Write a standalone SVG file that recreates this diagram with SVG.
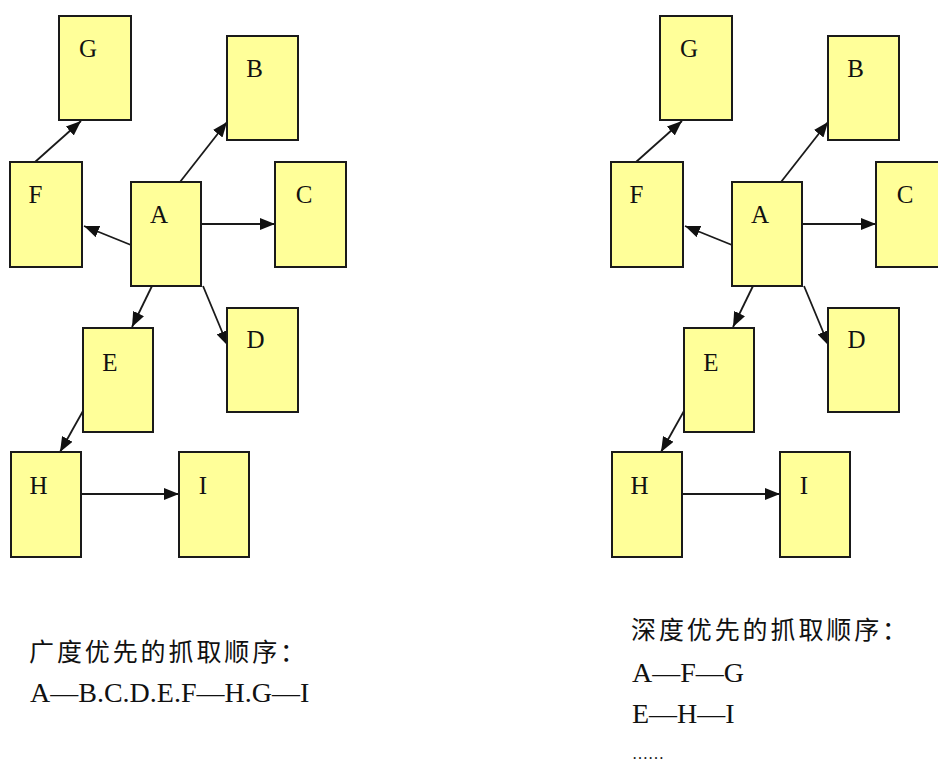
<svg xmlns="http://www.w3.org/2000/svg" width="938" height="765" viewBox="0 0 938 765">
  <style>
    .box { fill: #ffff99; stroke: #1a1a1a; stroke-width: 2; }
    .lbl { font-family: "Liberation Serif", serif; font-size: 25px; fill: #111; text-anchor: middle; }
    .edge { stroke: #1a1a1a; stroke-width: 1.8; fill: none; marker-end: url(#arrow); }
    .cap { font-family: "Noto Sans CJK SC", sans-serif; font-size: 25px; letter-spacing: 2.9px; fill: #111; }
    .seq { font-family: "Liberation Serif", serif; font-size: 28px; fill: #111; }
  </style>
  <defs>
    <marker id="arrow" markerUnits="userSpaceOnUse" markerWidth="15" markerHeight="12" refX="15" refY="6" orient="auto">
      <path d="M0,0 L15,6 L0,12 z" fill="#111"/>
    </marker>
  </defs>
  <rect width="938" height="765" fill="#ffffff"/>

  <!-- Left diagram: breadth-first -->
  <g id="left">
    <g id="connectors-left">
      <path class="edge" d="M35,162 L81,121"/>
      <path class="edge" d="M180,182 L227,122"/>
      <path class="edge" d="M131,245 L84,226"/>
      <path class="edge" d="M201,224 L275,224"/>
      <path class="edge" d="M152,286 L132,327"/>
      <path class="edge" d="M203,286 L228,346"/>
      <path class="edge" d="M83,411 L60,452"/>
      <path class="edge" d="M81,494 L179,494"/>
    </g>
    <g id="L-G"><rect class="box" x="59" y="16" width="72" height="104"/><text class="lbl" x="88" y="57">G</text></g>
    <g id="L-B"><rect class="box" x="227" y="36" width="71" height="104"/><text class="lbl" x="254.5" y="77">B</text></g>
    <g id="L-F"><rect class="box" x="10" y="162" width="72" height="105"/><text class="lbl" x="35.5" y="203">F</text></g>
    <g id="L-A"><rect class="box" x="131" y="182" width="70" height="104"/><text class="lbl" x="159" y="223">A</text></g>
    <g id="L-C"><rect class="box" x="275" y="162" width="71" height="105"/><text class="lbl" x="304" y="203">C</text></g>
    <g id="L-E"><rect class="box" x="83" y="328" width="70" height="104"/><text class="lbl" x="110" y="371">E</text></g>
    <g id="L-D"><rect class="box" x="227" y="308" width="71" height="104"/><text class="lbl" x="255.5" y="348">D</text></g>
    <g id="L-H"><rect class="box" x="11" y="452" width="70" height="105"/><text class="lbl" x="38.5" y="494">H</text></g>
    <g id="L-I"><rect class="box" x="179" y="452" width="70" height="105"/><text class="lbl" x="203" y="494">I</text></g>
    <text class="cap" x="29" y="661">广度优先的抓取顺序：</text>
    <text class="seq" x="30" y="702">A—B.C.D.E.F—H.G—I</text>
  </g>

  <!-- Right diagram: depth-first -->
  <g id="right">
    <g id="connectors-right" transform="translate(601,0)">
      <path class="edge" d="M35,162 L81,121"/>
      <path class="edge" d="M180,182 L227,122"/>
      <path class="edge" d="M131,245 L84,226"/>
      <path class="edge" d="M201,224 L275,224"/>
      <path class="edge" d="M152,286 L132,327"/>
      <path class="edge" d="M203,286 L228,346"/>
      <path class="edge" d="M83,411 L60,452"/>
      <path class="edge" d="M81,494 L179,494"/>
    </g>
    <g id="R-G"><rect class="box" x="660" y="16" width="72" height="104"/><text class="lbl" x="689" y="57">G</text></g>
    <g id="R-B"><rect class="box" x="828" y="36" width="71" height="104"/><text class="lbl" x="855.5" y="77">B</text></g>
    <g id="R-F"><rect class="box" x="611" y="162" width="72" height="105"/><text class="lbl" x="636.5" y="203">F</text></g>
    <g id="R-A"><rect class="box" x="732" y="182" width="70" height="104"/><text class="lbl" x="760" y="223">A</text></g>
    <g id="R-C"><rect class="box" x="876" y="162" width="71" height="105"/><text class="lbl" x="905" y="203">C</text></g>
    <g id="R-E"><rect class="box" x="684" y="328" width="70" height="104"/><text class="lbl" x="711" y="371">E</text></g>
    <g id="R-D"><rect class="box" x="828" y="308" width="71" height="104"/><text class="lbl" x="856.5" y="348">D</text></g>
    <g id="R-H"><rect class="box" x="612" y="452" width="70" height="105"/><text class="lbl" x="639.5" y="494">H</text></g>
    <g id="R-I"><rect class="box" x="780" y="452" width="70" height="105"/><text class="lbl" x="804" y="494">I</text></g>
    <text class="cap" x="631" y="639">深度优先的抓取顺序：</text>
    <text class="seq" x="632" y="682">A—F—G</text>
    <text class="seq" x="632" y="723">E—H—I</text>
    <text class="seq" x="632" y="759" style="font-size:16px">……</text>
  </g>
</svg>
